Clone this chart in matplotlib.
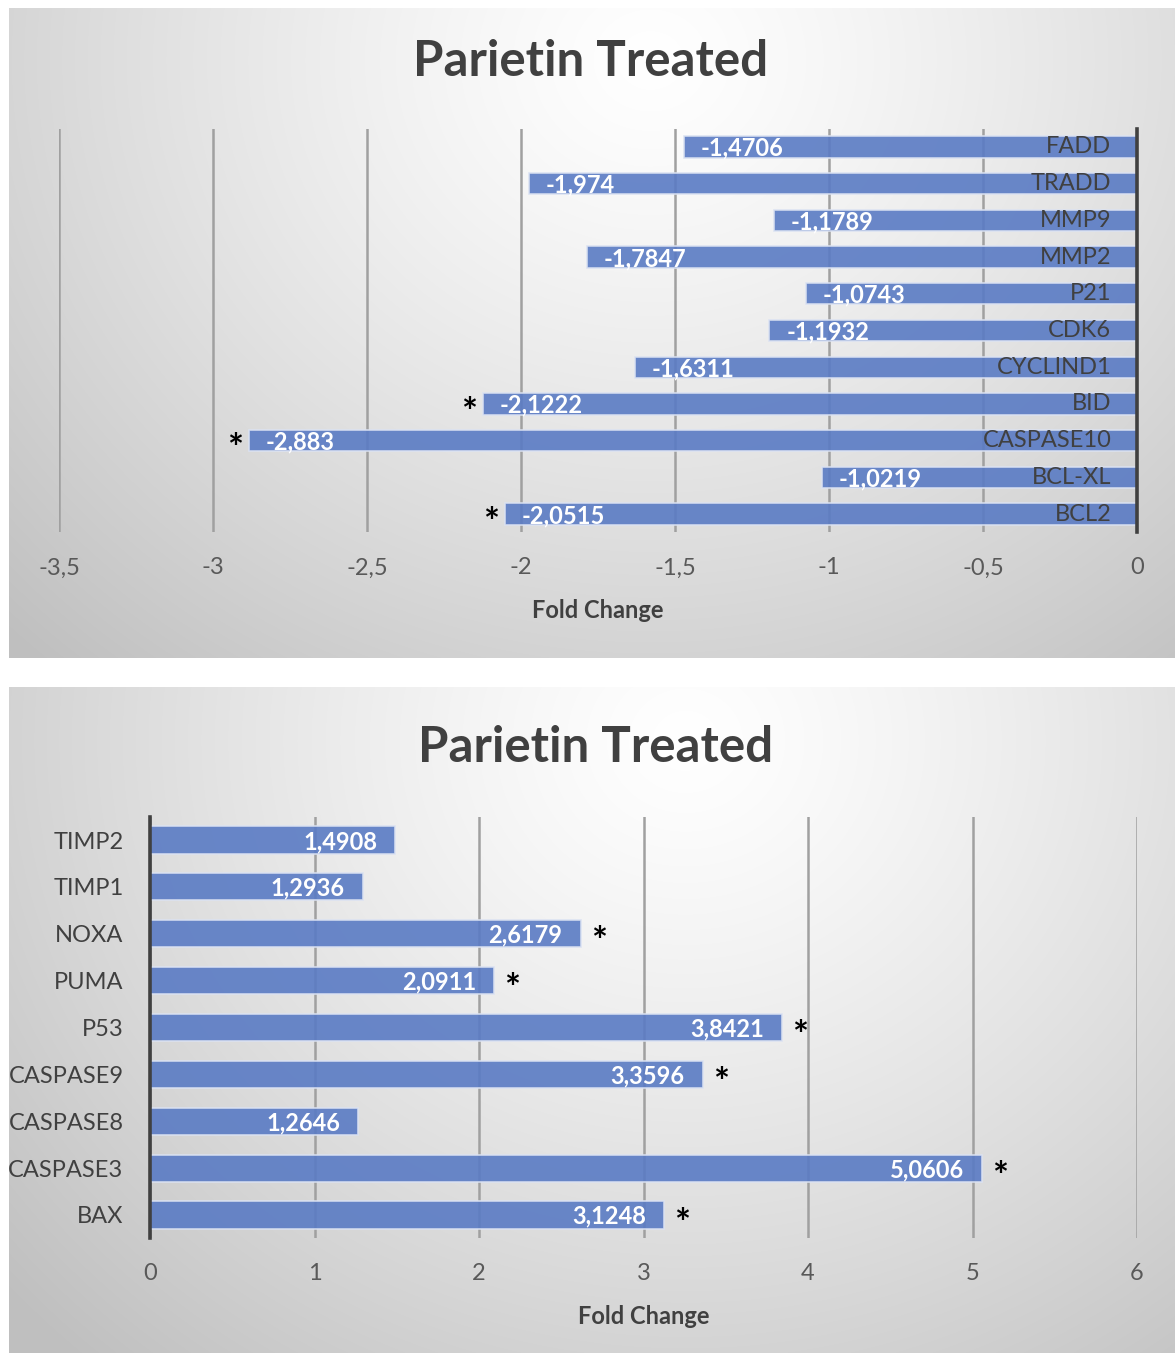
import numpy as np
import matplotlib
matplotlib.use("Agg")
import matplotlib.pyplot as plt
from matplotlib.ticker import FixedLocator, FuncFormatter

plt.rcParams['font.family'] = ['Lato', 'DejaVu Sans']

# Down-regulated genes (upper chart), listed top to bottom
down_genes = ["FADD", "TRADD", "MMP9", "MMP2", "P21", "CDK6", "CYCLIND1",
              "BID", "CASPASE10", "BCL-XL", "BCL2"]
down_values = [-1.4706, -1.974, -1.1789, -1.7847, -1.0743, -1.1932, -1.6311,
               -2.1222, -2.883, -1.0219, -2.0515]
down_signif = [False, False, False, False, False, False, False,
               True, True, False, True]
down_ticks = [-3.5, -3, -2.5, -2, -1.5, -1, -0.5, 0]

# Up-regulated genes (lower chart), listed top to bottom
up_genes = ["TIMP2", "TIMP1", "NOXA", "PUMA", "P53", "CASPASE9", "CASPASE8",
            "CASPASE3", "BAX"]
up_values = [1.4908, 1.2936, 2.6179, 2.0911, 3.8421, 3.3596, 1.2646,
             5.0606, 3.1248]
up_signif = [False, False, True, True, True, True, False, True, True]
up_ticks = [0, 1, 2, 3, 4, 5, 6]

title_text = "Parietin Treated"
xlabel_text = "Fold Change"

BAR_COLOR = "#5a7bc4"
TEXT_DARK = "#404040"
TICK_GREY = "#595959"
GRID_GREY = "#a0a0a0"

W, H = 1175, 1353
fig = plt.figure(figsize=(W / 100, H / 100), dpi=100)
fig.patch.set_facecolor("white")


def comma(v):
    return f"{v:g}".replace(".", ",")


def px_axes(x0, y0, x1, y1, **kw):
    return fig.add_axes([x0 / W, 1 - y1 / H, (x1 - x0) / W, (y1 - y0) / H], **kw)


def panel_background(x0, y0, x1, y1, cx, cy):
    ax = px_axes(x0, y0, x1, y1, zorder=0)
    h, w = int(y1 - y0), int(x1 - x0)
    yy, xx = np.mgrid[0:h, 0:w]
    dx = (xx / w - cx) / 0.78
    dy = (yy / h - cy) / 1.25
    r = np.clip(np.hypot(dx, dy), 0, 1)
    v = 1.0 - 0.25 * r ** 1.25
    ax.imshow(np.dstack([v, v, v]), aspect="auto", extent=[0, 1, 0, 1],
              interpolation="bilinear")
    ax.axis("off")


panel_background(9, 8, 1175, 658, 0.55, 0.08)
panel_background(9, 687, 1175, 1353, 0.58, 0.08)


def style_axis(ax, ticks, zero_spine):
    ax.patch.set_alpha(0)
    ax.xaxis.set_major_locator(FixedLocator(ticks))
    ax.xaxis.set_major_formatter(FuncFormatter(lambda v, p: comma(v)))
    ax.grid(axis="x", color=GRID_GREY, linewidth=1.8)
    ax.set_axisbelow(True)
    for s in ["top", "bottom", "left", "right"]:
        ax.spines[s].set_visible(False)
    ax.spines[zero_spine].set_visible(True)
    ax.spines[zero_spine].set_color(TEXT_DARK)
    ax.spines[zero_spine].set_linewidth(2.6)
    ax.tick_params(axis="x", length=0, pad=18, labelsize=17, labelcolor=TICK_GREY)
    ax.set_xlabel(xlabel_text, fontsize=17, fontweight="bold", color=TEXT_DARK,
                  labelpad=15)


# ---- Upper chart: negative fold changes ----
ax1 = px_axes(59, 128.6, 1137, 532.4, zorder=1)
n1 = len(down_genes)
y1 = np.arange(n1)[::-1]
ax1.barh(y1, down_values, height=0.58, color=BAR_COLOR, alpha=0.9,
         edgecolor="#dbe2f2", linewidth=1.2, zorder=2)
ax1.set_xlim(down_ticks[0], down_ticks[-1])
ax1.set_ylim(-0.5, n1 - 0.5)
ax1.set_yticks([])
style_axis(ax1, down_ticks, "right")

for yi, g, v, s in zip(y1, down_genes, down_values, down_signif):
    ax1.annotate(g, xy=(0, yi), xytext=(-18.5, 0), textcoords="offset points",
                 ha="right", va="center", fontsize=17, color=TEXT_DARK, zorder=3)
    ax1.annotate(comma(v), xy=(v, yi), xytext=(12, -1), textcoords="offset points",
                 ha="left", va="center", fontsize=17, fontweight="bold",
                 color="white", zorder=3)
    if s:
        ax1.annotate("*", xy=(v, yi), xytext=(-10, -7), textcoords="offset points",
                     ha="center", va="center", fontsize=27, fontweight="bold",
                     color="black", zorder=3)

# ---- Lower chart: positive fold changes ----
ax2 = px_axes(150, 816.6, 1137, 1238.4, zorder=1)
n2 = len(up_genes)
y2 = np.arange(n2)[::-1]
ax2.barh(y2, up_values, height=0.58, color=BAR_COLOR, alpha=0.9,
         edgecolor="#dbe2f2", linewidth=1.2, zorder=2)
ax2.set_xlim(up_ticks[0], up_ticks[-1])
ax2.set_ylim(-0.5, n2 - 0.5)
ax2.set_yticks(y2)
ax2.set_yticklabels(up_genes)
ax2.tick_params(axis="y", length=0, pad=19, labelsize=17, labelcolor=TEXT_DARK)
style_axis(ax2, up_ticks, "left")

for yi, v, s in zip(y2, up_values, up_signif):
    ax2.annotate(comma(v), xy=(v, yi), xytext=(-13, -1), textcoords="offset points",
                 ha="right", va="center", fontsize=17, fontweight="bold",
                 color="white", zorder=3)
    if s:
        ax2.annotate("*", xy=(v, yi), xytext=(13, -7), textcoords="offset points",
                     ha="center", va="center", fontsize=27, fontweight="bold",
                     color="black", zorder=3)

# ---- Titles ----
fig.text(591 / W, 1 - 62 / H, title_text, ha="center", va="center",
         fontsize=35.5, fontweight="bold", color=TEXT_DARK)
fig.text(596 / W, 1 - 747 / H, title_text, ha="center", va="center",
         fontsize=35.5, fontweight="bold", color=TEXT_DARK)

fig.savefig("out.png", dpi=100)
